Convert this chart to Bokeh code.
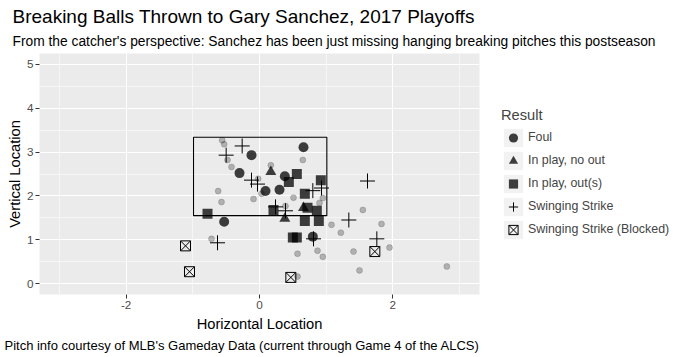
from bokeh.plotting import figure
from bokeh.models import FixedTicker, Title, Legend, LegendItem
from bokeh.embed import file_html
from bokeh.resources import INLINE

FONT = "Liberation Sans"

# ---------------- data ----------------
title_text = "Breaking Balls Thrown to Gary Sanchez, 2017 Playoffs"
subtitle_text = ("From the catcher's perspective: Sanchez has been just missing "
                 "hanging breaking pitches this postseason")
caption_text = "Pitch info courtesy of MLB's Gameday Data (current through Game 4 of the ALCS)"
x_label = "Horizontal Location"
y_label = "Vertical Location"
legend_title = "Result"

x_ticks = [-2, 0, 2]
x_tick_labels = ["-2", "0", "2"]
x_minor = [-3, -1, 1, 3]
y_ticks = [0, 1, 2, 3, 4, 5]
y_minor = [0.5, 1.5, 2.5, 3.5, 4.5]

# strike zone
zone_left, zone_right = -0.99, 1.01
zone_bottom, zone_top = 1.55, 3.34

# other breaking balls (no swing)
other_x = [-0.56, -0.53, -0.48, -0.42, 0.17, -0.02, -0.62, -0.57, -0.09, 0.03,
           0.65, 0.51, 0.95, 0.90, 1.55, 1.08, -0.72, 1.22, 0.57, 0.87,
           0.95, 1.41, 1.50, 0.57, 1.83, 1.95, 2.81, 0.39]
other_y = [3.27, 3.18, 2.82, 2.66, 2.70, 2.39, 2.11, 1.86, 1.93, 2.05,
           2.82, 1.96, 1.95, 1.84, 1.68, 1.34, 1.02, 1.16, 0.68, 0.75,
           0.61, 0.73, 0.30, 0.16, 1.36, 0.82, 0.39, 1.77]

foul_x = [-0.12, -0.30, 0.09, 0.30, 0.38, 0.66, -0.53, 0.80]
foul_y = [2.93, 2.52, 2.11, 2.14, 2.45, 3.11, 1.41, 1.07]

noout_x = [0.17, 0.38, 0.66]
noout_y = [2.55, 1.48, 1.73]

out_x = [-0.78, 0.56, 0.44, 0.92, 0.68, 0.21, 0.72, 0.86, 0.68, 0.89, 0.50, 0.56]
out_y = [1.59, 2.50, 2.32, 2.36, 2.05, 1.68, 1.73, 1.66, 1.43, 1.43, 1.05, 1.05]

swing_x = [-0.26, -0.50, -0.12, -0.03, 0.24, 0.39, 0.80, 0.93, 1.34, 1.62, 1.76, -0.63, 0.81]
swing_y = [3.14, 2.93, 2.36, 2.27, 1.75, 1.66, 2.12, 2.18, 1.45, 2.34, 1.02, 0.93, 1.02]

blocked_x = [-1.11, -1.05, 0.47, 1.73]
blocked_y = [0.86, 0.27, 0.14, 0.73]

result_labels = ["Foul", "In play, no out", "In play, out(s)",
                 "Swinging Strike", "Swinging Strike (Blocked)"]

# ---------------- figure ----------------
p = figure(frame_width=440, frame_height=241, output_backend="svg",
           toolbar_location=None, title=None,
           x_range=(-3.3, 3.3), y_range=(-0.25, 5.25),
           min_border_left=39, min_border_right=204, min_border_top=53,
           min_border_bottom=63)
p.background_fill_color = "#ebebeb"
p.border_fill_color = "white"
p.outline_line_color = None

for ax in (p.xaxis[0], p.yaxis[0]):
    ax.axis_line_color = None
    ax.major_tick_line_color = "#333333"
    ax.major_tick_out = 4
    ax.major_tick_in = 0
    ax.minor_tick_line_color = None
    ax.major_label_text_color = "#4d4d4d"
    ax.major_label_text_font = FONT
    ax.major_label_text_font_size = "11.7px"
    ax.axis_label_text_font = FONT
    ax.axis_label_text_font_size = "14.7px"
    ax.axis_label_text_font_style = "normal"
    ax.axis_label_text_color = "black"
    ax.major_label_standoff = 2

p.xaxis.axis_label_standoff = 4
p.yaxis.axis_label_standoff = 1
p.xaxis.ticker = FixedTicker(ticks=x_ticks, minor_ticks=x_minor)
p.xaxis.major_label_overrides = dict(zip(x_ticks, x_tick_labels))
p.yaxis.ticker = FixedTicker(ticks=y_ticks, minor_ticks=y_minor)
p.xaxis.axis_label = x_label
p.yaxis.axis_label = y_label

for g in (p.xgrid[0], p.ygrid[0]):
    g.grid_line_color = "white"
    g.grid_line_width = 1.1
    g.minor_grid_line_color = "white"
    g.minor_grid_line_width = 0.55

# strike zone
p.quad(left=[zone_left], right=[zone_right], bottom=[zone_bottom], top=[zone_top],
       fill_color=None, line_color="black", line_width=1.1)

# other pitches
p.scatter(other_x, other_y, marker="circle", size=6, fill_color="black",
          fill_alpha=0.25, line_color="black", line_alpha=0.25, line_width=0.6)

r_foul = p.scatter(foul_x, foul_y, marker="circle", size=10, fill_color="black",
                   fill_alpha=0.75, line_color=None)
r_noout = p.scatter(noout_x, noout_y, marker="triangle", size=11, fill_color="black",
                    fill_alpha=0.75, line_color=None)
r_out = p.scatter(out_x, out_y, marker="square", size=10, fill_color="black",
                  fill_alpha=0.75, line_color=None)
r_swing = p.scatter(swing_x, swing_y, marker="cross", size=15, line_color="black",
                    line_width=1)
r_blocked = p.scatter(blocked_x, blocked_y, marker="square_x", size=10,
                      fill_color=None, line_color="black", line_width=1)

# legend key background (legend only, not drawn in the panel)
key_bg = p.rect(x=foul_x, y=foul_y, width=0.1, height=0.1, fill_color="#f2f2f2",
                line_color=None, visible=False)

renderers = [r_foul, r_noout, r_out, r_swing, r_blocked]
items = [LegendItem(label=lab, renderers=[key_bg, r])
         for lab, r in zip(result_labels, renderers)]
legend = Legend(items=items, location="center_left", title=legend_title,
                title_text_font=FONT, title_text_font_size="14.7px",
                title_text_font_style="normal", title_standoff=3,
                label_text_font=FONT, label_text_font_size="12.4px",
                label_standoff=3, label_height=23,
                glyph_width=24, glyph_height=23, spacing=0,
                padding=0, margin=22, border_line_color=None,
                background_fill_alpha=0)
p.add_layout(legend, "right")

# titles
p.add_layout(Title(text=subtitle_text, align="left", offset=-27, standoff=10,
                   text_font=FONT, text_font_size="13.8px",
                   text_font_style="normal", text_color="black"), "above")
p.add_layout(Title(text=title_text, align="left", offset=-27, standoff=0,
                   text_font=FONT, text_font_size="19px",
                   text_font_style="normal", text_color="black"), "above")
p.add_layout(Title(text=caption_text, align="right", standoff=2,
                   text_font=FONT, text_font_size="13px",
                   text_font_style="normal", text_color="black"), "below")

open("out.html", "w").write(file_html(p, INLINE))
